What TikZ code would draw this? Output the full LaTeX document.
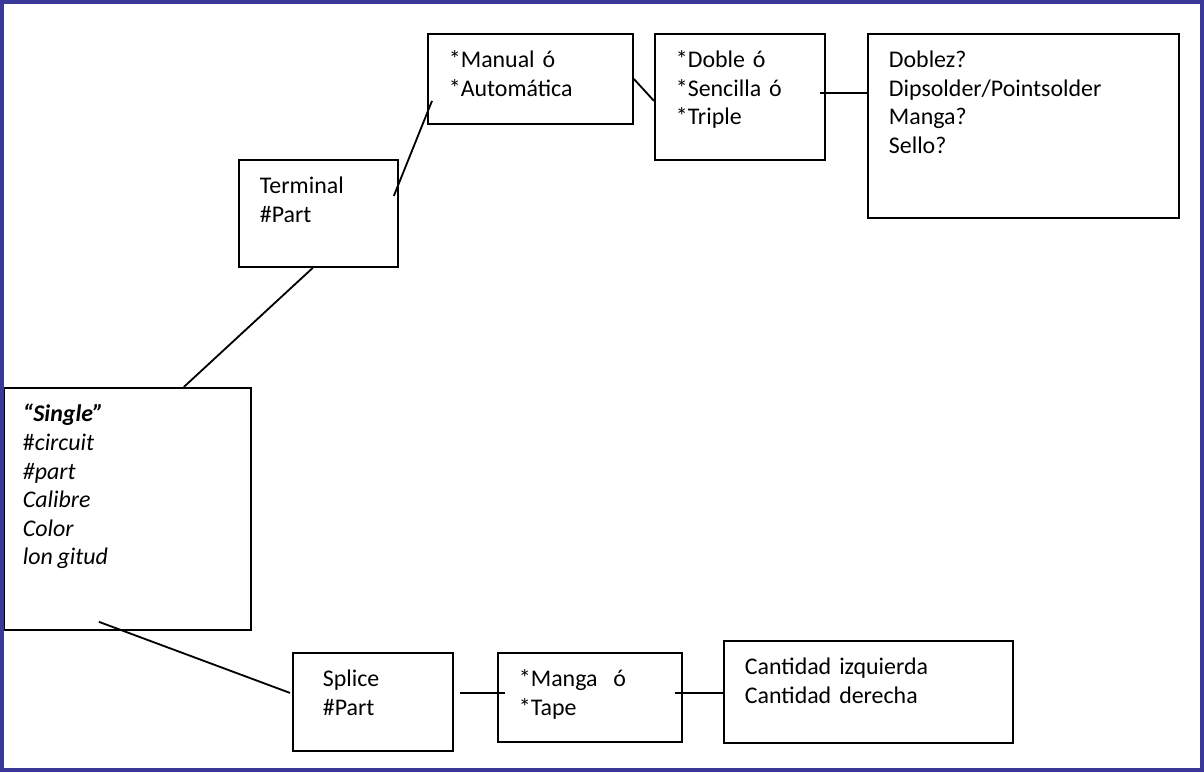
\documentclass[tikz,border=0pt]{standalone}
\usepackage{fontspec}
\setmainfont{Carlito}
\usepackage{xcolor}
\usepackage{tikz}
\usetikzlibrary{calc}
\definecolor{frameblue}{RGB}{58,56,153}
\tikzset{infobox/.style={
          draw,
          rectangle,
          anchor=north west,
          align=left,
          inner xsep=0.525cm,
          inner ysep=0pt,
          text height=0.85cm,
          line width=1.3pt,
          font=\fontsize{17}{20.3}\selectfont
     }}
\tikzstyle{link} = [line width=1.3pt]

\begin{document}
\begin{tikzpicture}
\useasboundingbox (0,0) rectangle (30.1,-19.3);
\node (manual) [infobox, text width=4.075cm, text depth=1.4cm] at (10.675,-0.825) {*Manual ó\\{}*Automática};
\node (doble) [infobox, text width=3.2cm, text depth=2.3cm] at (16.35,-0.825) {*Doble ó\\{}*Sencilla ó\\{}*Triple};
\node (doblez) [infobox, text width=6.725cm, text depth=3.75cm] at (21.675,-0.825) {Doblez?\\Dipsolder/Pointsolder\\Manga?\\Sello?};
\node (terminal) [infobox, text width=2.925cm, text depth=1.825cm] at (5.95,-3.975) {Terminal\\\#Part};
\node (single) [infobox, inner xsep=0.475cm, text width=5.225cm, text depth=5.2cm] at (0.075,-9.675) {{\bfseries\itshape “Single”}\\\#\textit{circuit}\\\textit{\#part}\\\textit{Calibre}\\\textit{Color}\\\textit{lon\kern0.2em gitud}};
\node (splice) [infobox, inner xsep=0.75cm, text width=2.5cm, text depth=1.6cm] at (7.3,-16.3) {Splice\\\#Part};
\node (manga) [infobox, text width=3.55cm, text depth=1.375cm] at (12.425,-16.3) {*Manga~ ó\\{}*Tape};
\node (cantidad) [infobox, text width=6.175cm, text depth=1.7cm] at (18.075,-16.0) {Cantidad izquierda\\Cantidad derecha};

\draw [link] ([xshift=-0.14cm]terminal.south) -- ([xshift=1.41cm]single.north);
\draw [link] ([shift={(-0.125cm,0.4375cm)}]terminal.east) -- ([shift={(0.125cm,-0.55cm)}]manual.west);
\draw [link] (manual.east) -- ([yshift=-0.1cm]doble.west);
\draw [link] ([shift={(-0.15cm,0.1cm)}]doble.east) coordinate (dbl) -- (dbl -| doblez.west);
\draw [link] ([shift={(-0.7125cm,0.225cm)}]single.south) -- ([shift={(-0.05cm,0.225cm)}]splice.west);
\draw [link] ([shift={(0.15cm,0.225cm)}]splice.east) coordinate (spl) -- ([xshift=0.2cm]spl -| manga.west);
\draw [link] ([shift={(-0.2cm,0.1125cm)}]manga.east) coordinate (mng) -- (mng -| cantidad.west);

% outer frame
\draw [frameblue, line width=0.1cm] (0.05,-0.05) rectangle (30.05,-19.25);
\end{tikzpicture}
\end{document}
